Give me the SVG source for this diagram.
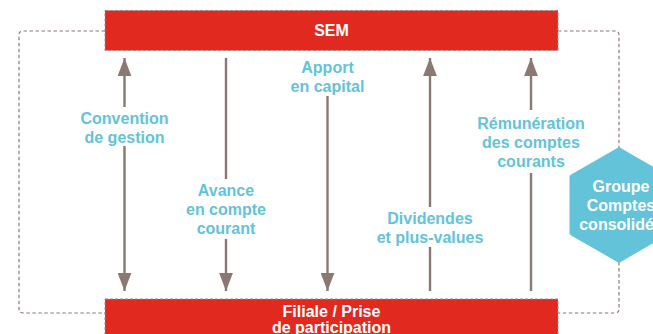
<svg xmlns="http://www.w3.org/2000/svg" width="653" height="334" viewBox="0 0 653 334">
<style>
.box{fill:#E2291F;stroke:#9A8C88;stroke-width:1;stroke-dasharray:3,2}
.frame{fill:none;stroke:#8B7B75;stroke-width:1.2;stroke-dasharray:3.5,2.5}
.arr{stroke:#8A7872;stroke-width:2.4;fill:none}
.lbl{font-family:"Liberation Sans",Arial,sans-serif;font-weight:bold;font-size:16px;fill:#63C3D9;text-anchor:middle}
.wt{font-family:"Liberation Sans",Arial,sans-serif;font-weight:bold;font-size:16px;fill:#FFFFFF;text-anchor:middle}
</style>
<defs>
<marker id="ah" markerUnits="userSpaceOnUse" markerWidth="18" markerHeight="14" viewBox="0 0 17 13" refX="17" refY="6.5" orient="auto">
<path d="M0,0 L17,6.5 L0,13 z" fill="#8A7872"/>
</marker>
</defs>
<g id="frame">
<path class="frame" d="M105,31 H23 Q19,31 19,35 V309 Q19,313 23,313 H105"/>
<path class="frame" d="M558,31 H615 Q619,31 619,35 V148"/>
<path class="frame" d="M619,262 V309 Q619,313 615,313 H558"/>
</g>
<g id="sem">
<rect class="box" x="105" y="10.5" width="453" height="40"/>
<text class="wt" x="331.5" y="36">SEM</text>
</g>
<g id="filiale">
<rect class="box" x="105" y="299" width="453" height="45"/>
<text class="wt" x="331.5" y="317">Filiale / Prise</text>
<text class="wt" x="331.5" y="333">de participation</text>
</g>
<g id="groupe">
<polygon points="619,150 666,177 666,233 619,260 572,233 572,177" fill="#63C3D9" stroke="#63C3D9" stroke-width="5" stroke-linejoin="round"/>
<text class="wt" x="621" y="192">Groupe</text>
<text class="wt" x="621" y="211">Comptes</text>
<text class="wt" x="621" y="230">consolidés</text>
</g>
<g id="connectors">
<line class="arr" x1="124.5" y1="107" x2="124.5" y2="58" marker-end="url(#ah)"/>
<line class="arr" x1="124.5" y1="146" x2="124.5" y2="291" marker-end="url(#ah)"/>
<line class="arr" x1="226" y1="58" x2="226" y2="179"/>
<line class="arr" x1="226" y1="239" x2="226" y2="291" marker-end="url(#ah)"/>
<line class="arr" x1="327.5" y1="96" x2="327.5" y2="291" marker-end="url(#ah)"/>
<line class="arr" x1="430" y1="207" x2="430" y2="58" marker-end="url(#ah)"/>
<line class="arr" x1="430" y1="247" x2="430" y2="291"/>
<line class="arr" x1="531" y1="110" x2="531" y2="58" marker-end="url(#ah)"/>
<line class="arr" x1="531" y1="173" x2="531" y2="291"/>
</g>
<g id="labels">
<text class="lbl" x="124.5" y="124">Convention</text>
<text class="lbl" x="124.5" y="143">de gestion</text>
<text class="lbl" x="226" y="196">Avance</text>
<text class="lbl" x="226" y="215">en compte</text>
<text class="lbl" x="226" y="234">courant</text>
<text class="lbl" x="327.5" y="73">Apport</text>
<text class="lbl" x="327.5" y="92">en capital</text>
<text class="lbl" x="430" y="224">Dividendes</text>
<text class="lbl" x="430" y="243">et plus-values</text>
<text class="lbl" x="531" y="129">Rémunération</text>
<text class="lbl" x="531" y="148">des comptes</text>
<text class="lbl" x="531" y="167">courants</text>
</g>
</svg>
